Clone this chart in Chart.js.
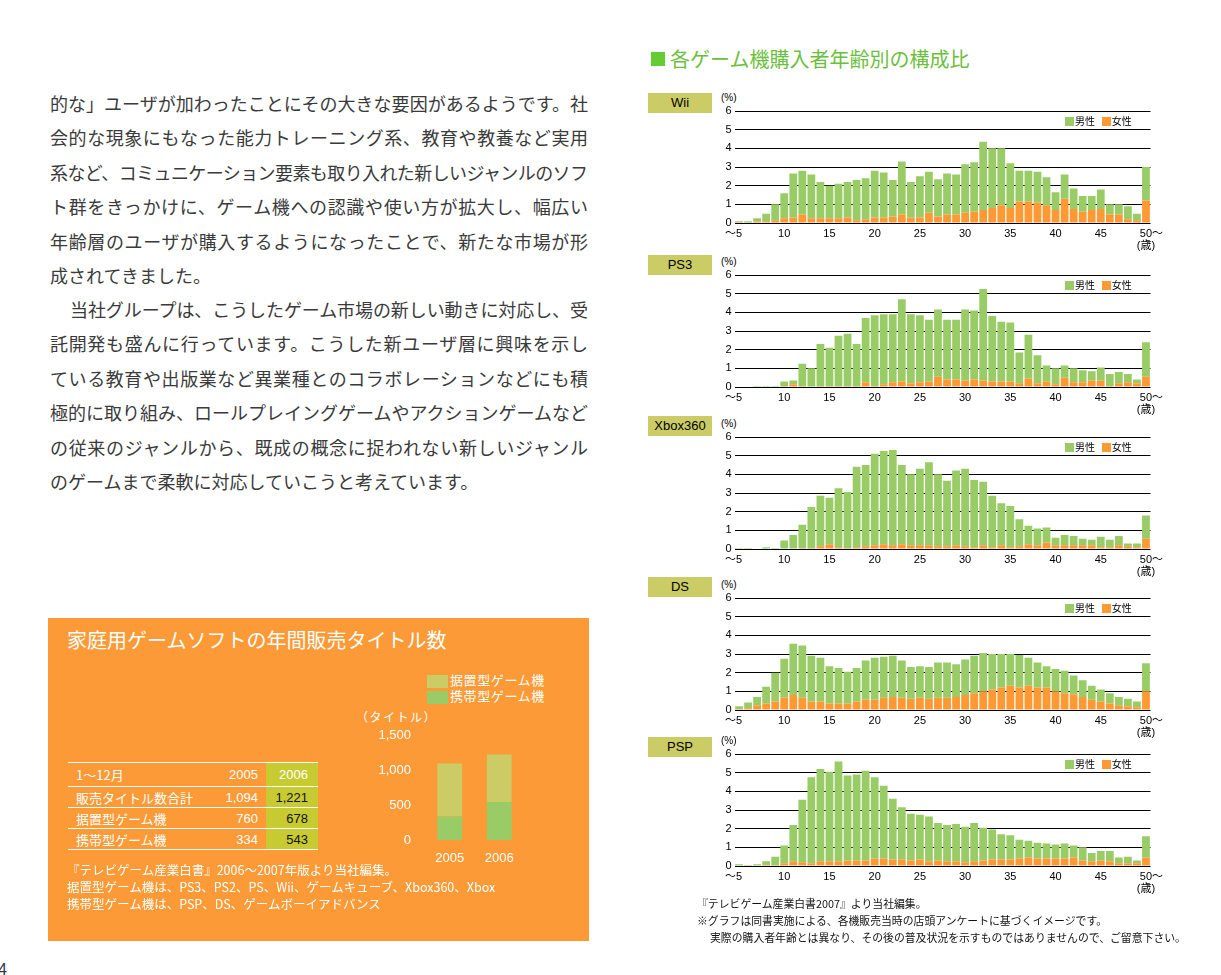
<!DOCTYPE html>
<html lang="ja">
<head>
<meta charset="utf-8">
<title>各ゲーム機購入者年齢別の構成比</title>
<script src="https://cdn.jsdelivr.net/npm/chart.js@4.4.1/dist/chart.umd.min.js"></script>
<style>
  html, body { margin: 0; padding: 0; }
  body {
    width: 1221px; height: 975px; position: relative; overflow: hidden; background: #fff;
    font-family: "Noto Sans CJK JP", sans-serif;
  }
  .abs { position: absolute; }
  .lead div {
    position: absolute; white-space: nowrap; font-size: 18px; line-height: 24px; color: #3a3a3a;
  }
  .orange { left: 48px; top: 618px; width: 541px; height: 323px; background: #fb9a36; }
  .orange-title { left: 67px; top: 627px; font-size: 20px; line-height: 26px; color: #fff; white-space: nowrap; }
  .tbl { left: 68px; top: 762px; width: 250px; border-collapse: collapse; font-size: 13px; color: #fff; }
  .tbl td { border-top: 1px solid #fff; border-bottom: 1px solid #fff; padding: 0; height: 20px; white-space: nowrap; }
  .tbl td.name { padding-left: 8px; }
  .tbl td.y5 { text-align: right; padding-right: 8px; font-family: "Liberation Sans", "Noto Sans CJK JP", sans-serif; }
  .tbl td.y6 { text-align: right; padding-right: 10px; background: #c8ca32; color: #111; width: 42px;
               font-family: "Liberation Sans", "Noto Sans CJK JP", sans-serif; }
  .tbl tr.head td { height: 23px; }
  .tbl tr.head td.y6 { color: #fff; }
  .onote { left: 67px; font-size: 12.5px; line-height: 16px; color: #fff; white-space: nowrap; }
  .sw { display: inline-block; vertical-align: middle; }
  .box { left: 648px; width: 64px; height: 20px; background: #cccc66; color: #000; text-align: center;
         font: 13px/20px "Liberation Sans", sans-serif; }
  .pct { left: 721px; font: 10px/10px "Liberation Sans", sans-serif; color: #000; }
  .lg { font-size: 10px; line-height: 10px; color: #000; white-space: nowrap; }
  .lg span.sq { display: inline-block; width: 9px; height: 9px; vertical-align: -1px; margin-right: 1px; }
  .rnote { font-size: 10.85px; line-height: 14px; color: #111; white-space: nowrap; }
</style>
</head>
<body>

<div class="lead">
  <div data-fit="538" style="left:50px;top:91px">的な」ユーザが加わったことにその大きな要因があるようです。社</div>
  <div data-fit="538" style="left:50px;top:125px">会的な現象にもなった能力トレーニング系、教育や教養など実用</div>
  <div data-fit="538" style="left:50px;top:160px">系など、コミュニケーション要素も取り入れた新しいジャンルのソフ</div>
  <div data-fit="538" style="left:50px;top:194px">ト群をきっかけに、ゲーム機への認識や使い方が拡大し、幅広い</div>
  <div data-fit="538" style="left:50px;top:229px">年齢層のユーザが購入するようになったことで、新たな市場が形</div>
  <div style="left:50px;top:263px">成されてきました。</div>
  <div data-fit="518" style="left:70px;top:297px">当社グループは、こうしたゲーム市場の新しい動きに対応し、受</div>
  <div data-fit="538" style="left:50px;top:331px">託開発も盛んに行っています。こうした新ユーザ層に興味を示し</div>
  <div data-fit="538" style="left:50px;top:366px">ている教育や出版業など異業種とのコラボレーションなどにも積</div>
  <div data-fit="538" style="left:50px;top:400px">極的に取り組み、ロールプレイングゲームやアクションゲームなど</div>
  <div data-fit="538" style="left:50px;top:435px">の従来のジャンルから、既成の概念に捉われない新しいジャンル</div>
  <div style="left:50px;top:469px">のゲームまで柔軟に対応していこうと考えています。</div>
</div>

<div class="abs orange"></div>
<div class="abs orange-title">家庭用ゲームソフトの年間販売タイトル数</div>
<table class="abs tbl" id="tbl"></table>
<div class="abs" style="left:427px;top:672px;font-size:13px;line-height:15px;color:#fff;white-space:nowrap;letter-spacing:0.6px">
  <div><span class="sw" style="width:21px;height:13px;background:#cccc66;margin-right:2px"></span>据置型ゲーム機</div>
  <div><span class="sw" style="width:21px;height:13px;background:#99cc66;margin-right:2px"></span>携帯型ゲーム機</div>
</div>
<div class="abs" style="left:356px;top:709px;font-size:12px;line-height:16px;color:#fff;letter-spacing:1.5px;white-space:nowrap">（タイトル）</div>
<div class="abs" id="titlesBox" style="left:345px;top:725px;width:181px;height:137px"><canvas id="titles"></canvas></div>
<div class="abs onote" style="top:862px">『テレビゲーム産業白書』2006〜2007年版より当社編集。</div>
<div class="abs onote" style="top:879px">据置型ゲーム機は、PS3、PS2、PS、Wii、ゲームキューブ、Xbox360、Xbox</div>
<div class="abs onote" style="top:896px">携帯型ゲーム機は、PSP、DS、ゲームボーイアドバンス</div>

<div class="abs" style="left:651px;top:52px;width:14px;height:14px;background:#66cc33"></div>
<div class="abs" style="left:670px;top:46px;font-size:20px;line-height:26px;color:#6cbf3c;white-space:nowrap">各ゲーム機購入者年齢別の構成比</div>

<div id="panels"></div>

<div class="abs rnote" style="left:697px;top:896px">『テレビゲーム産業白書2007』より当社編集。</div>
<div class="abs rnote" style="left:697px;top:913px">※グラフは同書実施による、各機販売当時の店頭アンケートに基づくイメージです。</div>
<div class="abs rnote" style="left:710px;top:930px">実際の購入者年齢とは異なり、その後の普及状況を示すものではありませんので、ご留意下さい。</div>

<div class="abs" style="left:-2px;top:961px;font:16px/18px 'Liberation Sans',sans-serif;color:#334">4</div>

<script>
// 年齢（5歳以下〜50歳以上）
const ages = [5, 6, 7, 8, 9, 10, 11, 12, 13, 14, 15, 16, 17, 18, 19, 20, 21, 22, 23, 24, 25, 26, 27,
  28, 29, 30, 31, 32, 33, 34, 35, 36, 37, 38, 39, 40, 41, 42, 43, 44, 45, 46, 47, 48, 49, 50];

// 構成比（%）男性 / 女性
const wiiMale = [0.05, 0.1, 0.15, 0.4, 0.85, 1.35, 2.35, 2.35, 2.35, 1.95, 1.75, 1.85, 1.9, 2.15, 2.2, 2.5,
  2.4, 1.95, 2.85, 1.9, 2.2, 2.2, 2.0, 2.2, 2.15, 2.6, 2.65, 3.65, 3.2, 3.05, 2.4, 1.65, 1.65, 1.65, 1.5,
  0.95, 1.3, 1.1, 0.85, 0.75, 1.05, 0.55, 0.55, 0.7, 0.35, 1.8];
const wiiFemale = [0.05, 0, 0.1, 0.1, 0.15, 0.25, 0.3, 0.45, 0.25, 0.25, 0.25, 0.25, 0.3, 0.15, 0.2, 0.3,
  0.3, 0.35, 0.45, 0.3, 0.3, 0.55, 0.35, 0.45, 0.45, 0.55, 0.6, 0.7, 0.8, 0.95, 0.8, 1.15, 1.15, 1.1, 0.95,
  0.7, 1.3, 0.75, 0.6, 0.7, 0.75, 0.45, 0.45, 0.2, 0.15, 1.2];

const ps3Male = [0, 0, 0.05, 0.05, 0.05, 0.25, 0.2, 1.2, 1.0, 2.25, 2.05, 2.7, 2.8, 2.25, 3.45, 3.8, 3.75,
  3.65, 4.4, 3.7, 3.6, 3.3, 3.6, 3.2, 3.2, 3.8, 3.7, 4.9, 3.5, 3.2, 3.15, 1.65, 2.35, 1.5, 0.85, 0.85, 0.65,
  0.75, 0.65, 0.5, 0.7, 0.65, 0.6, 0.45, 0.2, 1.85];
const ps3Female = [0, 0, 0, 0, 0, 0.05, 0.15, 0.05, 0, 0.05, 0.05, 0.05, 0.05, 0.05, 0.25, 0.05, 0.15, 0.25,
  0.3, 0.2, 0.25, 0.3, 0.55, 0.4, 0.4, 0.35, 0.4, 0.35, 0.3, 0.3, 0.3, 0.2, 0.45, 0.2, 0.3, 0.15, 0.5, 0.25,
  0.25, 0.35, 0.35, 0.05, 0.2, 0.25, 0.2, 0.55];

const xboxMale = [0.05, 0.05, 0, 0.1, 0.05, 0.45, 0.75, 1.25, 2.2, 2.7, 2.5, 3.15, 3.0, 4.3, 4.35, 4.9, 5.0,
  5.1, 4.25, 3.8, 4.1, 4.45, 3.85, 3.5, 4.0, 4.15, 3.6, 3.4, 2.75, 2.25, 2.2, 1.45, 1.0, 0.9, 0.8, 0.4, 0.55,
  0.5, 0.35, 0.3, 0.55, 0.4, 0.5, 0.15, 0.2, 1.25];
const xboxFemale = [0, 0, 0, 0, 0, 0, 0, 0.05, 0.05, 0.15, 0.25, 0.1, 0.05, 0.1, 0.15, 0.2, 0.25, 0.2, 0.25,
  0.2, 0.2, 0.2, 0.15, 0.15, 0.2, 0.15, 0.1, 0.2, 0.1, 0.2, 0.1, 0.15, 0.25, 0.2, 0.35, 0.2, 0.2, 0.2, 0.2,
  0.2, 0.1, 0.1, 0.2, 0.15, 0.1, 0.55];

const dsMale = [0.15, 0.3, 0.45, 0.9, 1.55, 2.1, 2.75, 2.8, 2.45, 2.35, 2.0, 1.9, 1.7, 1.8, 2.1, 2.25, 2.2,
  2.2, 2.0, 1.7, 1.7, 1.7, 1.9, 1.9, 1.75, 1.9, 2.0, 2.05, 1.9, 1.8, 1.7, 1.75, 1.5, 1.35, 1.15, 1.2, 1.2,
  1.0, 0.9, 0.75, 0.65, 0.55, 0.45, 0.4, 0.3, 1.5];
const dsFemale = [0.05, 0.1, 0.25, 0.35, 0.45, 0.65, 0.8, 0.65, 0.45, 0.45, 0.35, 0.35, 0.35, 0.45, 0.55,
  0.55, 0.65, 0.7, 0.65, 0.6, 0.65, 0.6, 0.65, 0.65, 0.7, 0.8, 0.9, 1.0, 1.1, 1.2, 1.3, 1.2, 1.3, 1.2, 1.2,
  1.0, 0.9, 0.85, 0.7, 0.55, 0.45, 0.35, 0.25, 0.2, 0.15, 1.0];

const pspMale = [0.1, 0.05, 0.1, 0.2, 0.45, 0.95, 1.95, 3.35, 4.6, 4.95, 4.8, 5.35, 4.55, 4.6, 4.8, 4.35,
  3.9, 3.25, 2.8, 2.5, 2.4, 2.4, 2.0, 1.95, 2.0, 1.9, 2.05, 1.75, 1.6, 1.35, 1.3, 1.0, 0.9, 0.85, 0.8, 0.75,
  0.8, 0.65, 0.7, 0.45, 0.5, 0.55, 0.3, 0.35, 0.15, 1.15];
const pspFemale = [0, 0, 0, 0.05, 0.05, 0.15, 0.25, 0.2, 0.15, 0.25, 0.25, 0.25, 0.3, 0.3, 0.3, 0.4, 0.4,
  0.35, 0.35, 0.3, 0.35, 0.25, 0.3, 0.25, 0.25, 0.2, 0.25, 0.3, 0.35, 0.35, 0.35, 0.4, 0.45, 0.4, 0.4, 0.4,
  0.4, 0.45, 0.3, 0.25, 0.3, 0.25, 0.15, 0.15, 0.15, 0.45];

// 年間販売タイトル数
const years = ['2005', '2006'];
const totalTitles = [1094, 1221];
const stationaryTitles = [760, 678];
const handheldTitles = [334, 543];

const GREEN = '#99cc66';
const ORANGE = '#ff9933';
const KHAKI = '#cccc66';
const latin = '"Liberation Sans", "Noto Sans CJK JP", sans-serif';
Chart.defaults.font.family = latin;

// 目盛ラベルのはみ出し分を余白に足さない
const noPad = (s) => { s.paddingLeft = 0; s.paddingRight = 0; s.paddingTop = 0; s.paddingBottom = 0; };

// 本文の両端揃え
document.querySelectorAll('.lead div[data-fit]').forEach((el) => {
  const n = [...el.textContent].length;
  const w = el.getBoundingClientRect().width;
  el.style.letterSpacing = `${(Number(el.dataset.fit) - w) / (n - 1)}px`;
});

// 表
const tbl = document.getElementById('tbl');
const rows = [
  ['1〜12月', years[0], years[1], 'head'],
  ['販売タイトル数合計', totalTitles[0], totalTitles[1], ''],
  ['据置型ゲーム機', stationaryTitles[0], stationaryTitles[1], ''],
  ['携帯型ゲーム機', handheldTitles[0], handheldTitles[1], ''],
];
rows.forEach(([name, a, b, cls]) => {
  const fmt = (v) => (typeof v === 'number' ? v.toLocaleString('en-US') : v);
  tbl.insertAdjacentHTML('beforeend',
    `<tr class="${cls}"><td class="name">${name}</td><td class="y5">${fmt(a)}</td><td class="y6">${fmt(b)}</td></tr>`);
});

new Chart(document.getElementById('titles'), {
  type: 'bar',
  data: {
    labels: years,
    datasets: [
      { label: '携帯型ゲーム機', data: handheldTitles, backgroundColor: GREEN, barPercentage: 0.5, categoryPercentage: 1 },
      { label: '据置型ゲーム機', data: stationaryTitles, backgroundColor: KHAKI, barPercentage: 0.5, categoryPercentage: 1 },
    ],
  },
  options: {
    responsive: true,
    maintainAspectRatio: false,
    animation: false,
    layout: { padding: { top: 10, right: 2 } },
    plugins: { legend: { display: false }, tooltip: { enabled: false } },
    scales: {
      x: {
        stacked: true,
        grid: { display: false },
        border: { display: false },
        ticks: { color: '#fff', font: { size: 13 }, padding: 3 },
        afterFit: (s) => { noPad(s); s.height = 22; },
      },
      y: {
        stacked: true,
        min: 0,
        max: 1500,
        grid: { display: false, drawTicks: false },
        border: { display: false },
        ticks: { stepSize: 500, color: '#fff', font: { size: 13 }, padding: 14, callback: (v) => v.toLocaleString('en-US') },
        afterFit: (s) => { noPad(s); s.width = 80; },
      },
    },
  },
});

// 年齢別構成比
const panels = [
  { name: 'Wii', male: wiiMale, female: wiiFemale },
  { name: 'PS3', male: ps3Male, female: ps3Female },
  { name: 'Xbox360', male: xboxMale, female: xboxFemale },
  { name: 'DS', male: dsMale, female: dsFemale },
  { name: 'PSP', male: pspMale, female: pspFemale },
];
const gridTops = [111, 275, 437, 598, 754];
const boxTops = [93, 255, 416, 577, 737];
const PAD_TOP = 8;
const PLOT_H = 112;

const holder = document.getElementById('panels');
panels.forEach((p, k) => {
  const top = gridTops[k];
  holder.insertAdjacentHTML('beforeend', `
    <div class="abs box" style="top:${boxTops[k]}px">${p.name}</div>
    <div class="abs pct" style="top:${top - 18}px">(%)</div>
    <div class="abs" style="left:700px;top:${top - PAD_TOP}px;width:475px;height:${PAD_TOP + PLOT_H + 28}px">
      <canvas id="age${k}"></canvas></div>
    <div class="abs lg" style="left:1065px;top:${top + 5}px">
      <span class="sq" style="background:${GREEN}"></span>男性&nbsp;&nbsp;&nbsp;<span class="sq" style="background:${ORANGE}"></span>女性</div>`);

  new Chart(document.getElementById(`age${k}`), {
    type: 'bar',
    data: {
      labels: ages,
      datasets: [
        { label: '女性', data: p.female, backgroundColor: ORANGE, barPercentage: 0.86, categoryPercentage: 1 },
        { label: '男性', data: p.male, backgroundColor: GREEN, barPercentage: 0.86, categoryPercentage: 1 },
      ],
    },
    options: {
      responsive: true,
      maintainAspectRatio: false,
      animation: false,
      layout: { padding: { top: PAD_TOP, right: 24.5 } },
      plugins: { legend: { display: false }, tooltip: { enabled: false } },
      scales: {
        x: {
          stacked: true,
          grid: { display: false, drawTicks: false },
          border: { display: false },
          ticks: {
            autoSkip: false,
            maxRotation: 0,
            padding: 5,
            color: '#000',
            font: { size: 11, lineHeight: 1.1 },
            callback: (v, i) => {
              const a = ages[i];
              if (i === 0) return `〜${a}\u2002\u2002`;
              if (i === ages.length - 1) return [`\u2002\u2002${a}〜`, '(歳)'];
              return a % 5 === 0 ? String(a) : '';
            },
          },
          afterFit: (s) => { noPad(s); s.height = 28; },
        },
        y: {
          stacked: true,
          min: 0,
          max: 6,
          grid: { color: '#000', lineWidth: 1, drawTicks: false },
          border: { display: false },
          ticks: { stepSize: 1, padding: 3, color: '#000', font: { size: 11 } },
          afterFit: (s) => { noPad(s); s.width = 34.5; },
        },
      },
    },
  });
});
</script>
</body>
</html>
